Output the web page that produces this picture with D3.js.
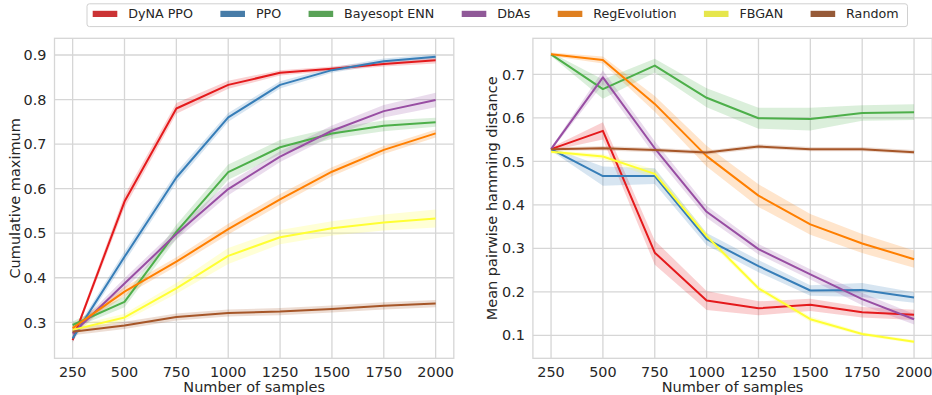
<!DOCTYPE html>
<html>
<head>
<meta charset="utf-8">
<script src="https://cdn.jsdelivr.net/npm/d3@7"></script>
<style>
  body { margin: 0; background: #fff; }
  svg text { font-family: "DejaVu Sans", sans-serif; fill: #262626; }
</style>
</head>
<body>
<div id="chart"></div>
<script>
// sample counts on the x axis
var samples = [250, 500, 750, 1000, 1250, 1500, 1750, 2000];

var methods = ['DyNA PPO', 'PPO', 'Bayesopt ENN', 'DbAs', 'RegEvolution', 'FBGAN', 'Random'];
var colors = ['#e41a1c', '#377eb8', '#4daf4a', '#984ea3', '#ff7f00', '#ffff33', '#a65628'];

// left panel: cumulative maximum (mean, then half width of the band)
var cumMax = [
  [0.260, 0.571, 0.780, 0.833, 0.860, 0.869, 0.880, 0.888],
  [0.264, 0.447, 0.625, 0.760, 0.833, 0.866, 0.886, 0.896],
  [0.294, 0.346, 0.503, 0.637, 0.693, 0.724, 0.741, 0.749],
  [0.275, 0.387, 0.498, 0.599, 0.672, 0.730, 0.774, 0.799],
  [0.287, 0.369, 0.436, 0.509, 0.576, 0.638, 0.687, 0.724],
  [0.283, 0.311, 0.376, 0.449, 0.491, 0.511, 0.524, 0.533],
  [0.279, 0.293, 0.312, 0.321, 0.324, 0.330, 0.337, 0.342]
];
var cumMaxCI = [
  [0.006, 0.014, 0.012, 0.009, 0.006, 0.005, 0.006, 0.007],
  [0.008, 0.012, 0.012, 0.010, 0.008, 0.006, 0.006, 0.006],
  [0.008, 0.012, 0.016, 0.017, 0.016, 0.012, 0.012, 0.010],
  [0.008, 0.012, 0.012, 0.014, 0.012, 0.012, 0.014, 0.016],
  [0.008, 0.010, 0.010, 0.012, 0.012, 0.010, 0.009, 0.009],
  [0.008, 0.008, 0.012, 0.018, 0.016, 0.016, 0.018, 0.020],
  [0.008, 0.008, 0.008, 0.008, 0.008, 0.008, 0.008, 0.008]
];

// right panel: mean pairwise hamming distance
var hamming = [
  [0.528, 0.570, 0.290, 0.180, 0.162, 0.170, 0.153, 0.147],
  [0.528, 0.466, 0.466, 0.321, 0.259, 0.203, 0.204, 0.187],
  [0.746, 0.666, 0.720, 0.646, 0.599, 0.597, 0.611, 0.613],
  [0.528, 0.693, 0.530, 0.384, 0.298, 0.240, 0.183, 0.137],
  [0.746, 0.733, 0.632, 0.512, 0.421, 0.355, 0.311, 0.275],
  [0.522, 0.511, 0.471, 0.328, 0.208, 0.137, 0.103, 0.085],
  [0.528, 0.530, 0.526, 0.520, 0.534, 0.528, 0.528, 0.521]
];
var hammingCI = [
  [0.004, 0.020, 0.028, 0.022, 0.016, 0.014, 0.012, 0.012],
  [0.004, 0.022, 0.018, 0.014, 0.014, 0.012, 0.016, 0.012],
  [0.004, 0.022, 0.016, 0.022, 0.024, 0.026, 0.018, 0.018],
  [0.004, 0.016, 0.016, 0.014, 0.012, 0.012, 0.014, 0.012],
  [0.004, 0.008, 0.018, 0.024, 0.026, 0.024, 0.022, 0.020],
  [0.004, 0.006, 0.010, 0.008, 0.006, 0.006, 0.004, 0.004],
  [0.004, 0.005, 0.005, 0.005, 0.005, 0.005, 0.005, 0.005]
];

var leftTicks = [0.3, 0.4, 0.5, 0.6, 0.7, 0.8, 0.9];
var rightTicks = [0.1, 0.2, 0.3, 0.4, 0.5, 0.6, 0.7];

var width = 932, height = 395;
var svg = d3.select('#chart').append('svg')
  .attr('width', width)
  .attr('height', height);

var gridColor = '#d6d6d6';

function drawPanel(opts) {
  var x = d3.scaleLinear().domain([162.5, 2087.5]).range([opts.left, opts.right]);
  var y = d3.scaleLinear().domain(opts.yDomain).range([opts.bottom, opts.top]);

  var g = svg.append('g');

  // grid
  g.selectAll('.vgrid').data(samples).enter().append('line')
    .attr('x1', function(d) { return x(d); })
    .attr('x2', function(d) { return x(d); })
    .attr('y1', opts.top).attr('y2', opts.bottom)
    .style('stroke', gridColor).style('stroke-width', 1.3);
  g.selectAll('.hgrid').data(opts.ticks).enter().append('line')
    .attr('x1', opts.left).attr('x2', opts.right)
    .attr('y1', function(d) { return y(d); })
    .attr('y2', function(d) { return y(d); })
    .style('stroke', gridColor).style('stroke-width', 1.3);

  var clipId = 'clip' + opts.left;
  svg.append('clipPath').attr('id', clipId).append('rect')
    .attr('x', opts.left).attr('y', opts.top)
    .attr('width', opts.right - opts.left).attr('height', opts.bottom - opts.top);

  var plot = g.append('g').attr('clip-path', 'url(#' + clipId + ')');

  var area = d3.area()
    .x(function(d) { return x(d.x); })
    .y0(function(d) { return y(d.v - d.ci); })
    .y1(function(d) { return y(d.v + d.ci); });
  var line = d3.line()
    .x(function(d) { return x(d.x); })
    .y(function(d) { return y(d.v); });

  var series = opts.values.map(function(vals, i) {
    return vals.map(function(v, j) { return { x: samples[j], v: v, ci: opts.ci[i][j] }; });
  });

  plot.selectAll('.band').data(series).enter().append('path')
    .attr('d', area)
    .style('fill', function(d, i) { return colors[i]; })
    .style('fill-opacity', 0.2)
    .style('stroke', 'none');

  plot.selectAll('.line').data(series).enter().append('path')
    .attr('d', line)
    .style('fill', 'none')
    .style('stroke', function(d, i) { return colors[i]; })
    .style('stroke-width', 2)
    .style('stroke-linejoin', 'round');

  // frame
  g.append('rect')
    .attr('x', opts.left).attr('y', opts.top)
    .attr('width', opts.right - opts.left).attr('height', opts.bottom - opts.top)
    .style('fill', 'none').style('stroke', gridColor).style('stroke-width', 1.3);

  // tick labels
  g.selectAll('.xt').data(samples).enter().append('text')
    .attr('x', function(d) { return x(d); })
    .attr('y', 376.5)
    .attr('text-anchor', 'middle')
    .style('font-size', '14.4px')
    .text(function(d) { return d; });
  g.selectAll('.yt').data(opts.ticks).enter().append('text')
    .attr('x', opts.left - 8)
    .attr('y', function(d) { return y(d) + 5.2; })
    .attr('text-anchor', 'end')
    .style('font-size', '14.4px')
    .text(function(d) { return d3.format('.1f')(d); });

  g.append('text')
    .attr('x', (opts.left + opts.right) / 2)
    .attr('y', 392.3)
    .attr('text-anchor', 'middle')
    .style('font-size', '14.5px')
    .text('Number of samples');

  g.append('text')
    .attr('transform', 'translate(' + opts.labelX + ',' + (opts.top + opts.bottom) / 2 + ')rotate(-90)')
    .attr('text-anchor', 'middle')
    .style('font-size', '14.5px')
    .text(opts.yLabel);
}

drawPanel({
  left: 54.5, right: 453.8, top: 38.3, bottom: 358.3,
  yDomain: [0.2192, 0.9375], ticks: leftTicks,
  values: cumMax, ci: cumMaxCI,
  yLabel: 'Cumulative maximum', labelX: 19.5
});

drawPanel({
  left: 532.9, right: 932.2, top: 38.3, bottom: 358.3,
  yDomain: [0.0471, 0.7828], ticks: rightTicks,
  values: hamming, ci: hammingCI,
  yLabel: 'Mean pairwise hamming distance', labelX: 496.5
});

// legend
var legend = svg.append('g');
legend.append('rect')
  .attr('x', 87).attr('y', 3.8)
  .attr('width', 820.5).attr('height', 22.8)
  .attr('rx', 2.5)
  .style('fill', '#fff')
  .style('stroke', '#d0d0d0')
  .style('stroke-width', 1);

var lx = 92.7;
methods.forEach(function(name, i) {
  var c = d3.hsl(colors[i]);
  c.s = c.s * 0.75;
  legend.append('rect')
    .attr('x', lx).attr('y', 10.8)
    .attr('width', 24.6).attr('height', 6.2)
    .style('fill', c.formatHex());
  var t = legend.append('text')
    .attr('x', lx + 35.5)
    .attr('y', 17.6)
    .style('font-size', '12.7px')
    .text(name);
  lx = lx + 35.5 + t.node().getComputedTextLength() + 27.4;
});
</script>
</body>
</html>
